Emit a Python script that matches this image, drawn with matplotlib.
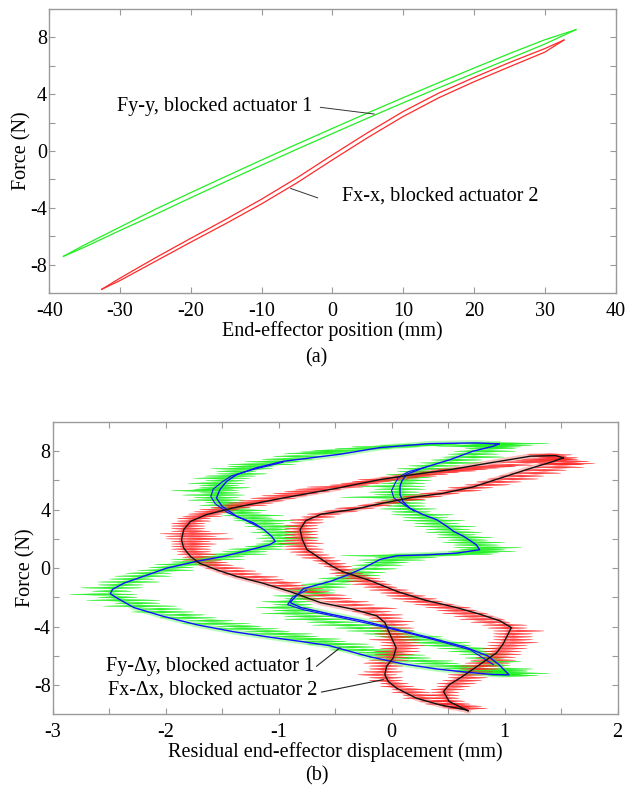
import matplotlib
matplotlib.use("Agg")
import matplotlib.pyplot as plt
from matplotlib import font_manager
from matplotlib.collections import PolyCollection
import numpy as np

_avail = {f.name for f in font_manager.fontManager.ttflist}
_serif = [n for n in ['Liberation Serif', 'Tinos', 'Nimbus Roman', 'TeX Gyre Termes',
                      'Times New Roman', 'DejaVu Serif'] if n in _avail]
plt.rcParams['font.family'] = _serif + ['DejaVu Sans']
plt.rcParams['axes.unicode_minus'] = False
FS = 14.5

# ---------------- (a) force vs end-effector position ----------------
green_up_x = [-38, -35, -30, -25, -20, -15, -10, -5, 0, 5, 10, 15, 20, 25, 30, 34.4]
green_up_F = [-7.40, -6.59, -5.34, -4.09, -2.92, -1.77, -0.63, 0.49, 1.59, 2.68, 3.75, 4.80, 5.83, 6.85, 7.82, 8.53]
green_lo_x = [-38, -35, -30, -25, -20, -15, -10, -5, 0, 5, 10, 15, 20, 25, 30, 34.4]
green_lo_F = [-7.40, -6.75, -5.58, -4.45, -3.28, -2.13, -0.99, 0.13, 1.23, 2.32, 3.39, 4.44, 5.47, 6.49, 7.52, 8.53]

red_up_x = [-32.6, -30, -25, -20, -15, -10, -5, 0, 5, 10, 15, 20, 25, 30, 32.7]
red_up_F = [-9.72, -8.93, -7.50, -6.13, -4.78, -3.38, -1.88, -0.27, 1.30, 2.78, 4.07, 5.17, 6.22, 7.20, 7.80]
red_lo_x = [-32.6, -30, -25, -20, -15, -10, -5, 0, 5, 10, 15, 20, 25, 30, 32.7]
red_lo_F = [-9.72, -9.10, -7.75, -6.40, -5.08, -3.71, -2.23, -0.62, 0.95, 2.43, 3.74, 4.87, 5.92, 6.95, 7.80]

# ---------------- (b) force vs residual displacement ----------------
blue_x = [0.95, 0.75, 0.34, -0.10, -0.45, -0.96, -1.20, -1.37, -1.46, -1.52, -1.55, -1.50, -1.37,
          -1.22, -1.13, -1.06, -1.03, -1.08, -1.25, -1.49, -1.73, -1.99, -2.20, -2.37, -2.47, -2.49,
          -2.43, -2.28, -2.02, -1.72, -1.40, -1.10, -0.80, -0.55, -0.46, -0.20, 0.10, 0.40, 0.70,
          0.90, 1.04, 0.95, 0.85, 0.65, 0.34, 0.04, -0.25, -0.54, -0.80, -0.90, -0.78, -0.54, -0.40,
          -0.25, -0.10, 0.05, 0.31, 0.58, 0.78, 0.75, 0.64, 0.55, 0.49, 0.40, 0.28, 0.16, 0.10, 0.075,
          0.075, 0.09, 0.13, 0.28, 0.52, 0.72, 0.90, 0.95]
blue_F = [8.50, 8.57, 8.52, 8.25, 7.80, 7.31, 6.86, 6.40, 5.94, 5.37, 4.80, 4.23, 3.54,
          3.09, 2.63, 2.17, 1.83, 1.60, 1.26, 0.80, 0.46, 0.00, -0.57, -1.03, -1.45, -1.75,
          -2.05, -2.70, -3.30, -3.88, -4.35, -4.70, -5.02, -5.30, -5.50, -6.05, -6.55, -6.90, -7.15,
          -7.28, -7.30, -6.60, -6.00, -5.40, -4.76, -4.18, -3.61, -3.15, -2.70, -2.35, -1.40, -0.90, -0.50,
          0.00, 0.60, 0.85, 0.91, 1.03, 1.26, 1.60, 2.17, 2.51, 2.86, 3.31, 3.66, 4.11, 4.57, 5.03,
          5.60, 5.94, 6.40, 6.86, 7.43, 8.00, 8.34, 8.50]
blue2a_x = [-0.96, -1.25, -1.42, -1.50, -1.58, -1.60, -1.56, -1.45, -1.30, -1.17]
blue2a_F = [7.25, 6.70, 6.30, 5.90, 5.40, 4.90, 4.40, 3.80, 3.30, 2.80]
blue2b_x = [0.20, 0.12, 0.02, 0.00, 0.03, 0.06, 0.15, 0.30]
blue2b_F = [3.90, 4.30, 4.80, 5.30, 5.80, 6.20, 6.60, 6.90]
blue2c_x = [0.90, 0.70, 0.40, 0.10, -0.20, -0.50, -0.78, -0.92, -0.88, -0.75]
blue2c_F = [-6.60, -5.60, -4.95, -4.35, -3.80, -3.30, -2.85, -2.50, -2.00, -1.50]

black_x = [1.52, 1.45, 1.23, 0.87, 0.52, 0.19, -0.10, -0.40, -0.46, -0.96, -1.37, -1.64, -1.78,
           -1.84, -1.86, -1.84, -1.78, -1.70, -1.55, -1.37, -1.14, -0.90, -0.63, -0.34, -0.13, -0.06,
           -0.01, 0.04, 0.015, -0.044, -0.06, -0.03, 0.044, 0.22, 0.43, 0.66, 0.68, 0.51, 0.46, 0.51,
           0.63, 0.78, 0.93, 0.985, 1.03, 1.06, 0.96, 0.78, 0.57, 0.30, 0.05, -0.19, -0.37, -0.43,
           -0.52, -0.62, -0.75, -0.79, -0.81, -0.76, -0.62, -0.34, -0.06, 0.19, 0.44, 0.72, 0.97, 1.22,
           1.43, 1.52]
black_F = [7.55, 7.70, 7.66, 7.20, 6.74, 6.40, 6.06, 5.60, 5.50, 4.80, 4.18, 3.66, 3.20,
           2.63, 1.94, 1.37, 0.80, 0.34, -0.11, -0.57, -1.03, -1.60, -2.36, -2.81, -3.27, -3.72,
           -4.60, -5.45, -6.14, -6.71, -7.29, -7.75, -8.21, -8.90, -9.36, -9.70, -9.77, -9.13, -8.44, -7.98,
           -7.40, -6.60, -5.79, -5.22, -4.53, -4.07, -3.61, -3.15, -2.69, -2.20, -1.60, -0.85, -0.40, -0.25,
           0.10, 0.60, 1.27, 1.95, 2.64, 3.25, 3.70, 4.02, 4.47, 4.85, 5.10, 5.55, 6.18, 6.80,
           7.30, 7.55]

# measured noise excursions: force, left x, right x
green_spk_F = [8.52, 8.40, 8.30, 8.46, 8.30, 8.05, 7.85, 7.45, 7.10, 6.80, 6.45, 6.15, 5.80, 5.50, 5.30,
               5.00, 4.65, 4.30, 3.95, 3.60, 3.25, 2.85, 2.45, 2.05, 1.65, 1.30, 0.95, 0.60, 0.25, -0.15,
               -0.55, -0.95, -1.35, -1.80, -2.20, -2.60, -3.00, -3.40, -3.80, -4.15, -4.50, -4.85, -5.20,
               -5.60, -5.95, -6.35, -6.70, -7.00, -7.20, -7.35, -6.90, -6.40, -5.90, -5.50, -5.10, -4.70,
               -4.30, -3.90, -3.50, -3.10, -2.70, -2.30, -1.90, -1.50, -1.10, -0.70, -0.30, 0.20, 0.55,
               0.85, 0.95, 1.15, 1.40, 1.75, 2.10, 2.45, 2.85, 3.25, 3.65, 4.05, 4.45, 4.85, 5.20, 5.60,
               6.00, 6.40, 6.80, 7.20, 7.60, 8.00,
               8.48, 8.35, 8.40, 8.18, 7.95, 7.65, 7.28, 6.95, 6.62, 6.30, 5.98, 5.65, 5.40, 5.15, 4.82,
               4.48, 4.12, 3.78, 3.42, 3.05, 2.65, 2.25, 1.85, 1.48, 1.12, 0.78, 0.42, 0.05, -0.35, -0.75,
               -1.15, -1.58, -2.00, -2.40, -2.80, -3.20, -3.60, -3.98, -4.32, -4.68, -5.02, -5.40, -5.78,
               -6.15, -6.52, -6.85, -7.10, -7.28, -7.10, -6.65, -6.15, -5.70, -5.30, -4.90, -4.50, -4.10,
               -3.70, -3.30, -2.90, -2.50, -2.10, -1.70, -1.30, -0.90, -0.50, -0.05, 0.38, 0.72, 0.90,
               1.05, 1.28, 1.58, 1.92, 2.28, 2.65, 3.05, 3.45, 3.85, 4.25, 4.65, 5.02, 5.40, 5.80, 6.20,
               6.60, 7.00, 7.40, 7.80, 8.20]
green_spk_l = [0.55, 0.60, 0.70, 0.10, -0.35, -0.70, -0.95, -1.15, -1.45, -1.60, -1.55, -1.75, -1.80, -1.70,
               -1.95, -1.85, -1.80, -1.70, -1.55, -1.50, -1.40, -1.30, -1.25, -1.20, -1.20, -1.45, -1.65,
               -1.95, -2.10, -2.25, -2.45, -2.60, -2.75, -2.85, -2.70, -2.55, -2.30, -2.05, -1.85, -1.55,
               -1.25, -1.00, -0.75, -0.55, -0.30, 0.00, 0.30, 0.55, 0.75, 0.85, 0.80, 0.70, 0.60, 0.40,
               0.10, -0.15, -0.40, -0.70, -0.95, -1.15, -1.20, -1.15, -1.05, -0.95, -0.80, -0.65, -0.50,
               -0.35, -0.30, -0.45, 0.20, 0.50, 0.55, 0.45, 0.40, 0.30, 0.20, 0.10, 0.00, -0.10, -0.15,
               -0.45, -0.20, -0.30, -0.10, -0.05, 0.05, 0.25, 0.45, 0.55,
               0.70, 0.40, -0.10, -0.50, -0.80, -1.05, -1.30, -1.45, -1.55, -1.65, -1.65, -1.70, -1.75,
               -1.70, -1.75, -1.65, -1.60, -1.50, -1.40, -1.30, -1.20, -1.15, -1.15, -1.30, -1.50, -1.70,
               -1.95, -2.15, -2.35, -2.50, -2.60, -2.65, -2.60, -2.45, -2.25, -2.05, -1.80, -1.55, -1.30,
               -1.05, -0.80, -0.55, -0.30, -0.05, 0.20, 0.45, 0.60, 0.80, 0.80, 0.75, 0.65, 0.50, 0.25,
               0.00, -0.25, -0.50, -0.75, -0.95, -1.05, -1.05, -0.95, -0.85, -0.75, -0.60, -0.45, -0.35,
               -0.25, -0.15, 0.00, 0.55, 0.60, 0.55, 0.50, 0.40, 0.30, 0.20, 0.10, 0.00, -0.05, -0.10,
               -0.15, -0.15, -0.10, -0.05, 0.05, 0.15, 0.35, 0.50, 0.65]
green_spk_r = [1.40, 1.25, 1.15, 0.60, 0.25, -0.25, -0.40, -0.70, -0.85, -1.05, -1.10, -1.25, -1.30, -1.25,
               -1.35, -1.30, -1.30, -1.25, -1.10, -0.95, -0.85, -0.75, -0.70, -0.65, -0.75, -0.95, -1.10,
               -1.30, -1.55, -1.75, -1.95, -2.05, -2.20, -2.25, -2.05, -1.90, -1.75, -1.55, -1.25, -1.00,
               -0.70, -0.45, -0.20, 0.05, 0.30, 0.55, 0.85, 1.20, 1.40, 1.30, 1.25, 1.15, 1.05, 0.95,
               0.70, 0.45, 0.20, -0.05, -0.35, -0.55, -0.70, -0.70, -0.60, -0.50, -0.35, -0.20, -0.05,
               0.10, 0.30, 0.50, 0.90, 1.10, 1.15, 1.00, 0.90, 0.80, 0.75, 0.65, 0.55, 0.40, 0.30,
               0.35, 0.25, 0.30, 0.35, 0.40, 0.55, 0.80, 1.00, 1.10,
               1.10, 0.95, 0.45, 0.00, -0.35, -0.60, -0.80, -1.05, -1.20, -1.20, -1.30, -1.35, -1.40,
               -1.35, -1.35, -1.30, -1.25, -1.15, -1.05, -0.95, -0.90, -0.85, -0.85, -0.95, -1.10, -1.30,
               -1.55, -1.75, -1.95, -2.10, -2.20, -2.30, -2.25, -2.05, -1.85, -1.65, -1.40, -1.15, -0.90,
               -0.65, -0.40, -0.15, 0.10, 0.35, 0.60, 0.85, 1.05, 1.15, 1.20, 1.05, 1.00, 0.90, 0.70,
               0.45, 0.20, -0.05, -0.30, -0.50, -0.65, -0.70, -0.60, -0.50, -0.40, -0.25, -0.10, 0.05,
               0.15, 0.40, 0.60, 0.95, 1.00, 0.95, 0.85, 0.75, 0.70, 0.60, 0.50, 0.35, 0.30, 0.30,
               0.30, 0.30, 0.30, 0.35, 0.45, 0.60, 0.80, 0.95, 1.10]

red_spk_F = [7.75, 7.55, 7.35, 7.15, 6.95, 6.75, 6.55, 6.30, 6.05, 5.80, 5.55, 5.25, 4.95, 4.60, 4.30,
             4.00, 3.70, 3.40, 3.05, 2.70, 2.35, 2.00, 1.65, 1.30, 0.95, 0.55, 0.20, -0.20, -0.60, -1.00,
             -1.40, -1.85, -2.30, -2.75, -3.20, -3.65, -4.10, -4.50, -4.90, -5.30, -5.70, -6.10, -6.50,
             -6.90, -7.30, -7.70, -8.10, -8.50, -8.90, -9.30, -9.60, -9.50, -9.10, -8.70, -8.30, -7.90,
             -7.50, -7.10, -6.70, -6.30, -5.90, -5.50, -5.10, -4.70, -4.30, -3.90, -3.50, -3.10, -2.70,
             -2.30, -1.90, -1.50, -1.10, -0.70, -0.35, 0.10, 0.50, 0.90, 1.30, 1.70, 2.10, 2.50, 2.90,
             3.30, 3.70, 4.10, 4.50, 4.90, 5.30, 5.70, 6.10, 6.50, 6.90, 7.30,
             7.65, 7.45, 7.25, 7.05, 6.85, 6.65, 6.42, 6.18, 5.92, 5.68, 5.40, 5.10, 4.78, 4.45, 4.15,
             3.85, 3.55, 3.22, 2.88, 2.52, 2.18, 1.82, 1.48, 1.12, 0.75, 0.38, 0.00, -0.40, -0.80, -1.20,
             -1.62, -2.08, -2.52, -2.98, -3.42, -3.88, -4.30, -4.70, -5.10, -5.50, -5.90, -6.30, -6.70,
             -7.10, -7.50, -7.90, -8.30, -8.70, -9.10, -9.45, -9.30, -8.90, -8.50, -8.10, -7.70, -7.30,
             -6.90, -6.50, -6.10, -5.70, -5.30, -4.90, -4.50, -4.10, -3.70, -3.30, -2.90, -2.50, -2.10,
             -1.70, -1.30, -0.90, -0.52, -0.12, 0.30, 0.70, 1.10, 1.50, 1.90, 2.30, 2.70, 3.10, 3.50,
             3.90, 4.30, 4.70, 5.10, 5.50, 5.90, 6.30, 6.70, 7.10, 7.45]
red_spk_l = [1.20, 1.30, 1.10, 1.30, 0.70, 0.40, 0.25, 0.00, -0.30, -0.45, -0.75, -0.95, -1.15, -1.35,
             -1.55, -1.70, -1.80, -1.90, -1.95, -1.95, -2.05, -2.00, -1.95, -1.95, -1.90, -1.85, -1.70,
             -1.55, -1.40, -1.15, -1.00, -0.80, -0.60, -0.40, -0.25, -0.20, -0.20, -0.15, -0.20, -0.10,
             -0.15, -0.20, -0.25, -0.20, -0.30, -0.20, -0.10, 0.00, 0.10, 0.30, 0.50, 0.45, 0.35, 0.30,
             0.35, 0.40, 0.50, 0.55, 0.60, 0.70, 0.75, 0.80, 0.85, 0.90, 0.90, 0.80, 0.60, 0.45, 0.30,
             0.10, -0.05, -0.20, -0.35, -0.45, -0.55, -0.60, -0.70, -0.85, -0.95, -1.00, -0.95, -0.95,
             -0.95, -0.90, -0.75, -0.50, -0.15, 0.10, 0.40, 0.65, 0.85, 1.05, 1.25, 1.40,
             1.25, 1.15, 0.95, 0.85, 0.55, 0.35, 0.10, -0.10, -0.35, -0.55, -0.85, -1.05, -1.25, -1.45,
             -1.60, -1.75, -1.85, -1.90, -1.95, -1.95, -2.00, -1.95, -1.95, -1.90, -1.85, -1.75, -1.65,
             -1.50, -1.30, -1.10, -0.90, -0.70, -0.50, -0.35, -0.20, -0.15, -0.10, -0.10, -0.10, -0.10,
             -0.15, -0.20, -0.20, -0.25, -0.20, -0.10, 0.00, 0.10, 0.25, 0.45, 0.40, 0.35, 0.35, 0.40,
             0.45, 0.50, 0.60, 0.65, 0.75, 0.80, 0.85, 0.90, 0.90, 0.85, 0.70, 0.55, 0.40, 0.20, 0.00,
             -0.10, -0.25, -0.40, -0.50, -0.55, -0.65, -0.80, -0.90, -0.95, -0.95, -0.95, -0.95, -0.90,
             -0.80, -0.60, -0.30, 0.00, 0.25, 0.50, 0.75, 0.95, 1.15, 1.30, 1.40]
red_spk_r = [1.60, 1.65, 1.55, 1.80, 1.10, 0.85, 0.60, 0.40, 0.15, -0.10, -0.25, -0.55, -0.75, -0.95,
             -1.10, -1.35, -1.50, -1.60, -1.65, -1.65, -1.45, -1.40, -1.55, -1.60, -1.55, -1.50, -1.40,
             -1.20, -1.00, -0.80, -0.60, -0.40, -0.20, 0.05, 0.10, 0.20, 0.20, 0.20, 0.25, 0.30, 0.25,
             0.15, 0.10, 0.05, 0.05, 0.10, 0.20, 0.35, 0.45, 0.65, 0.85, 0.70, 0.65, 0.60, 0.65, 0.75,
             0.85, 0.90, 1.00, 1.10, 1.15, 1.20, 1.30, 1.25, 1.35, 1.20, 1.00, 0.85, 0.70, 0.45, 0.30,
             0.15, 0.00, -0.10, -0.25, -0.35, -0.45, -0.55, -0.60, -0.60, -0.65, -0.65, -0.65, -0.60,
             -0.45, -0.15, 0.15, 0.45, 0.80, 1.05, 1.30, 1.50, 1.70, 1.75,
             1.55, 1.60, 1.45, 1.25, 0.95, 0.75, 0.50, 0.25, 0.00, -0.20, -0.45, -0.65, -0.85, -1.05,
             -1.25, -1.40, -1.50, -1.60, -1.65, -1.60, -1.55, -1.60, -1.60, -1.60, -1.55, -1.45, -1.30,
             -1.15, -0.95, -0.75, -0.55, -0.35, -0.15, 0.00, 0.10, 0.15, 0.20, 0.20, 0.25, 0.25, 0.20,
             0.15, 0.10, 0.10, 0.10, 0.15, 0.30, 0.40, 0.55, 0.80, 0.70, 0.60, 0.60, 0.70, 0.80, 0.85,
             0.95, 1.05, 1.10, 1.15, 1.20, 1.25, 1.25, 1.20, 1.05, 0.90, 0.75, 0.55, 0.40, 0.20, 0.05,
             -0.05, -0.20, -0.30, -0.40, -0.50, -0.60, -0.65, -0.65, -0.65, -0.65, -0.60, -0.50, -0.30,
             0.00, 0.30, 0.60, 0.90, 1.15, 1.35, 1.55, 1.70, 1.65]


def spike_polys(F, xl, xr, h):
    """Spindle-shaped horizontal spike for every measured excursion."""
    polys = []
    for f, a, b in zip(F, xl, xr):
        m = 0.5 * (a + b)
        polys.append([(a, f), (m, f + h), (b, f), (m, f - h)])
    return polys


# ---------------- figure ----------------
fig = plt.figure(figsize=(6.28, 7.87), dpi=100)
ax1 = fig.add_axes([0.0785, 0.6273, 0.9018, 0.3616])
ax2 = fig.add_axes([0.0839, 0.0924, 0.8994, 0.3714])

GRID_C = '#9a9a9a'
for ax in (ax1, ax2):
    for s in ax.spines.values():
        s.set_color(GRID_C)
        s.set_linewidth(1.0)
    ax.tick_params(which='both', direction='in', top=True, right=True, length=4,
                   width=0.8, color=GRID_C, labelsize=FS)
    ax.tick_params(axis='x', pad=6)
    ax.tick_params(axis='y', pad=1.5)

# (a)
ax1.plot(green_lo_x, green_lo_F, color='#22ee22', lw=0.9)
ax1.plot(green_up_x, green_up_F, color='#22ee22', lw=0.9)
ax1.plot(red_lo_x, red_lo_F, color='#ff2a2a', lw=0.9)
ax1.plot(red_up_x, red_up_F, color='#ff2a2a', lw=0.9)
ax1.set_xlim(-40, 40)
ax1.set_ylim(-10, 10)
ax1.set_xticks(range(-40, 41, 10))
ax1.set_yticks(range(-8, 9, 2))
ax1.set_yticklabels(['-8', '', '-4', '', '0', '', '4', '', '8'])
ax1.set_xlabel('End-effector position (mm)', fontsize=FS, labelpad=0)
ax1.set_ylabel('Force (N)', fontsize=FS, labelpad=-1)
ax1.text(-30.4, 3.1, 'Fy-y, blocked actuator 1', fontsize=FS, va='center', ha='left')
ax1.plot([-1.7, 5.9], [3.07, 2.6], color='#333333', lw=0.7)
ax1.text(1.3, -3.17, 'Fx-x, blocked actuator 2', fontsize=FS, va='center', ha='left')
ax1.plot([-2.1, -5.9], [-3.29, -2.63], color='#333333', lw=0.7)

# (b)
ax2.plot(blue_x, blue_F, color='#33ff33', lw=4.0, alpha=0.35, solid_capstyle='round')
ax2.add_collection(PolyCollection(spike_polys(green_spk_F, green_spk_l, green_spk_r, 0.07),
                                  facecolors='#11ee11', edgecolors='#11ee11', linewidths=0.25, alpha=0.85))
ax2.plot(black_x, black_F, color='#ff3030', lw=4.0, alpha=0.3, solid_capstyle='round')
ax2.add_collection(PolyCollection(spike_polys(red_spk_F, red_spk_l, red_spk_r, 0.07),
                                  facecolors='#ff1818', edgecolors='#ff1818', linewidths=0.25, alpha=0.8))
ax2.plot(blue_x, blue_F, color='#1010ff', lw=1.0)
ax2.plot(blue2a_x, blue2a_F, color='#1010ff', lw=0.8)
ax2.plot(blue2b_x, blue2b_F, color='#1010ff', lw=0.8)
ax2.plot(blue2c_x, blue2c_F, color='#1010ff', lw=0.8)
ax2.plot(black_x, black_F, color='#111111', lw=1.0)
ax2.set_xlim(-3, 2)
ax2.set_ylim(-10, 10)
ax2.set_xticks(np.arange(-3, 2.01, 0.5))
ax2.set_xticklabels(['-3', '', '-2', '', '-1', '', '0', '', '1', '', '2'])
ax2.set_yticks(range(-8, 9, 2))
ax2.set_yticklabels(['-8', '', '-4', '', '0', '', '4', '', '8'])
ax2.set_xlabel('Residual end-effector displacement (mm)', fontsize=FS, labelpad=0)
ax2.set_ylabel('Force (N)', fontsize=FS, labelpad=-1)
ax2.text(-0.69, -6.71, 'Fy-\u0394y, blocked actuator 1', fontsize=FS, va='center', ha='right')
ax2.plot([-0.664, -0.457], [-6.71, -5.45], color='#222222', lw=0.8)
ax2.text(-0.66, -8.32, 'Fx-\u0394x, blocked actuator 2', fontsize=FS, va='center', ha='right')
ax2.plot([-0.62, -0.074], [-8.48, -7.63], color='#222222', lw=0.8)

fig.text(0.503, (787 - 358) / 787, '(a)', fontsize=FS, ha='center', va='center')
fig.text(0.505, (787 - 776) / 787, '(b)', fontsize=FS, ha='center', va='center')

fig.savefig('out.png', dpi=100)
